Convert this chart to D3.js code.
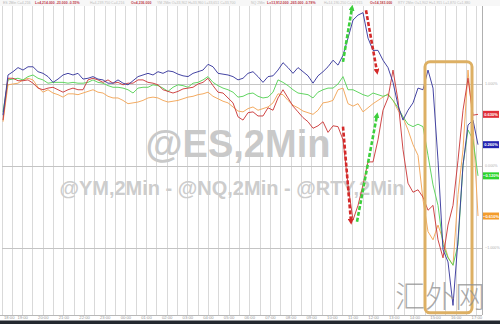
<!DOCTYPE html>
<html><head><meta charset="utf-8">
<script src="https://cdn.jsdelivr.net/npm/d3@7"></script>
<style>html,body{margin:0;padding:0;background:#fff;}svg{display:block;}</style>
</head><body>
<svg id="c" width="500" height="324"></svg>
<script>
// ---------- data ----------
const timeLabels = ["18:00","19:00","20:00","21:00","22:00","23:00","00:00","01:00","02:00","03:00","04:00","05:00",
  "06:00","07:00","08:00","09:00","10:00","11:00","12:00","13:00","14:00","15:00","16:00","17:00"];
const yTicks = [1, 0, -1];
const seriesNames = ["YM","ES","RTY","NQ"];
const nqValues = [0.62,1.11,1.15,1.20,1.17,1.21,1.21,1.15,1.13,1.09,
  1.02,1.06,1.11,1.13,1.11,1.13,1.06,1.07,1.09,1.06,
  1.05,1.01,1.01,1.05,1.01,0.99,1.04,1.09,1.11,1.13,
  1.11,1.15,1.13,1.16,1.15,1.12,1.10,1.09,1.13,1.15,
  1.17,1.24,1.21,1.13,1.12,1.11,1.09,1.05,1.07,1.13,
  1.15,1.09,1.02,1.09,1.10,1.17,1.26,1.20,1.13,1.20,
  1.15,1.10,1.01,1.10,1.15,1.21,1.29,1.23,1.35,1.56,
  1.78,1.84,1.87,1.56,1.41,1.41,1.29,1.20,1.02,0.74,
  0.56,0.68,0.77,0.95,0.93,1.17,0.95,0.07,-1.02,-1.17,
  -1.70,-0.90,0.01,0.50,0.56,0.26];
const esValues = [0.66,1.05,1.06,1.07,1.05,1.09,1.11,1.07,1.05,1.01,
  1.02,1.02,1.02,1.01,1.02,1.01,1.01,1.02,1.05,1.02,
  1.01,0.98,0.96,0.96,0.95,0.93,0.89,0.95,0.96,0.96,
  0.99,0.98,0.95,0.91,0.96,0.99,0.98,0.96,1.01,1.02,
  1.05,1.09,1.02,0.98,0.95,0.93,0.90,0.84,0.85,0.88,
  0.89,0.85,0.83,0.84,0.90,1.05,1.02,0.98,0.93,0.89,
  0.88,0.87,0.83,0.90,0.93,0.95,0.95,1.00,1.09,0.93,
  0.93,0.90,0.87,0.85,0.89,0.87,0.85,0.87,0.80,0.71,
  0.60,0.51,0.48,0.51,0.48,0.13,-0.23,-0.48,-0.96,-1.12,
  -1.21,-0.96,0.01,0.44,0.32,-0.12];
const rtyValues = [0.56,1.07,1.07,1.04,1.04,1.05,1.01,0.95,0.93,0.95,
  0.96,0.93,0.90,0.93,0.95,0.93,0.93,1.05,1.07,1.05,
  1.02,1.05,1.01,1.02,0.99,1.01,1.01,1.05,1.05,1.02,
  1.01,0.99,0.93,0.91,0.89,0.91,0.94,0.95,0.96,1.00,
  1.02,1.07,0.98,0.90,0.89,0.83,0.77,0.60,0.56,0.65,
  0.66,0.61,0.61,0.71,0.68,0.83,0.93,0.83,0.73,0.66,
  0.59,0.54,0.46,0.49,0.54,0.41,0.49,0.48,0.32,-0.23,
  -0.66,-0.48,-0.23,0.05,0.05,0.32,0.68,0.83,1.17,0.80,
  0.20,-0.21,-0.32,-0.29,-0.38,-0.54,-0.48,-0.90,-1.12,-0.72,
  -0.48,0.07,0.68,1.07,0.62,0.63];
const ymValues = [0.54,0.99,1.00,1.01,1.05,1.07,1.05,0.96,0.90,0.93,
  0.89,0.87,0.84,0.88,0.88,0.87,0.89,0.91,0.93,0.90,
  0.89,0.85,0.83,0.83,0.80,0.76,0.77,0.78,0.80,0.83,
  0.84,0.83,0.80,0.78,0.79,0.80,0.82,0.84,0.85,0.87,
  0.88,0.90,0.85,0.82,0.79,0.77,0.72,0.67,0.66,0.70,
  0.72,0.68,0.70,0.72,0.77,0.88,0.87,0.80,0.74,0.71,
  0.67,0.65,0.63,0.68,0.77,0.78,0.80,0.93,0.95,0.76,
  0.73,0.76,0.66,0.71,0.76,0.80,0.84,0.88,0.80,0.68,
  0.59,0.44,0.26,0.13,-0.41,-0.80,-0.90,-0.72,-0.90,-1.11,
  -1.21,-0.35,0.20,1.17,0.50,-0.61];
// annotation arrows: [fromIndex, fromValue, toIndex, toValue, colour]
const arrowSpecs = [
  [68.0, 1.27, 69.8, 1.93, "green"],
  [72.6, 1.90, 74.8, 1.15, "red"],
  [68.0, 0.48, 69.6, -0.68, "red"],
  [70.8, -0.68, 74.8, 0.62, "green"]
];
// highlight box: [fromIndex, toIndex, topValue, bottomValue]
const boxSpec = [84.4, 93.8, 1.27, -1.79];
const headerTexts = [
  ["ES 2Min  C=4,216", "#b8b8b8", 3], ["L=4,214.000 -23.000 -0.55%", "#c0394a", 35],
  ["H=4,239.750 C=4,216", "#bdbdbd", 90], ["O=4,236.000", "#c0394a", 131],
  ["YM 2Min O=33,902 H=33,960 L=33,651 C=33,700", "#bdbdbd", 157],
  ["NQ 2Min", "#bdbdbd", 251], ["L=13,912.000 -265.000 -0.78%", "#c0394a", 267],
  ["H=14,190.250 C=13,915", "#bdbdbd", 324], ["O=14,183.000", "#c0394a", 370],
  ["RTY 2Min O=1,902 H=1,915 L=1,870 C=1,880", "#bdbdbd", 398]
];

// ---------- drawing ----------
const svg = d3.select("#c");
const L = 2, R = 482, T = 6, B = 315;
const n = nqValues.length;
const x = d3.scaleLinear().domain([0, n - 1]).range([3, 478]);
const y = d3.scaleLinear().domain([-1, 1]).range([248, 84]);
const gx = d3.scaleLinear().domain([0, 23.25]).range([L, R]);

svg.append("rect").attr("width", 500).attr("height", 324).attr("fill", "#fff");

// header bar
svg.append("rect").attr("x", 0).attr("y", 0).attr("width", 500).attr("height", T).attr("fill", "#f7f7f7");
svg.selectAll("text.hdr").data(headerTexts).join("text").attr("class", "hdr")
  .attr("x", d => d[2]).attr("y", 4.2).attr("fill", d => d[1])
  .attr("font-family", "Liberation Sans, Arial, sans-serif").attr("font-size", 3.5)
  .attr("font-weight", d => d[1] === "#c0394a" ? "bold" : "normal").text(d => d[0]);

// vertical grid (every half hour)
svg.append("g").selectAll("line").data(d3.range(0, 23.5, 0.5)).join("line")
  .attr("x1", d => gx(d)).attr("x2", d => gx(d)).attr("y1", T).attr("y2", B)
  .attr("stroke", "#d9d9d9").attr("stroke-width", 1).attr("shape-rendering", "crispEdges");

// horizontal grid
svg.append("g").selectAll("line").data(yTicks).join("line")
  .attr("x1", L).attr("x2", R).attr("y1", d => y(d)).attr("y2", d => y(d))
  .attr("stroke", "#c4c4c4").attr("stroke-width", 1).attr("shape-rendering", "crispEdges");

// frame
svg.append("line").attr("x1", R).attr("x2", R).attr("y1", T).attr("y2", B).attr("stroke", "#b0b0b0").attr("shape-rendering", "crispEdges");
svg.append("line").attr("x1", 0).attr("x2", R).attr("y1", B).attr("y2", B).attr("stroke", "#b8b8b8").attr("shape-rendering", "crispEdges");

// watermark
svg.append("text").attr("x", 238).attr("y", 157).attr("text-anchor", "middle")
  .attr("font-family", "Liberation Sans, Arial, sans-serif").attr("font-weight", "bold").attr("font-size", 38)
  .attr("fill", "#c9c9c9").text("@ES,2Min");
svg.append("text").attr("x", 232).attr("y", 195).attr("text-anchor", "middle")
  .attr("font-family", "Liberation Sans, Arial, sans-serif").attr("font-weight", "bold").attr("font-size", 20)
  .attr("fill", "#cdcdcd").text("@YM,2Min - @NQ,2Min - @RTY,2Min");

// lines
const line = d3.line().x((d, i) => x(i)).y(d => y(d));
const series = [
  {name: seriesNames[0], values: ymValues, color: "#f2a65a", tag: "#f39c2c"},
  {name: seriesNames[1], values: esValues, color: "#5ad35a", tag: "#2ed42e"},
  {name: seriesNames[2], values: rtyValues, color: "#cc3d3d", tag: "#e0303a"},
  {name: seriesNames[3], values: nqValues, color: "#3b3b9e", tag: "#2424b0"}
];
svg.append("g").selectAll("path").data(series).join("path")
  .attr("d", d => line(d.values)).attr("fill", "none")
  .attr("stroke", d => d.color).attr("stroke-width", 0.95).attr("stroke-linejoin", "round");

// highlight box
svg.append("rect")
  .attr("x", x(boxSpec[0])).attr("y", y(boxSpec[2]))
  .attr("width", x(boxSpec[1]) - x(boxSpec[0])).attr("height", y(boxSpec[3]) - y(boxSpec[2]))
  .attr("rx", 5).attr("fill", "none").attr("stroke", "#ddb064").attr("stroke-width", 3);

// arrows
const arrowColors = {green: "#3ccf3c", red: "#d42a2a"};
const defs = svg.append("defs");
Object.entries(arrowColors).forEach(([k, c]) => {
  defs.append("marker").attr("id", "ah-" + k).attr("viewBox", "0 0 10 10").attr("refX", 5).attr("refY", 5)
    .attr("markerWidth", 6).attr("markerHeight", 6).attr("markerUnits", "userSpaceOnUse").attr("orient", "auto")
    .append("path").attr("d", "M0,0 L10,5 L0,10 z").attr("fill", c);
});
svg.append("g").selectAll("line").data(arrowSpecs).join("line")
  .attr("x1", d => x(d[0])).attr("y1", d => y(d[1])).attr("x2", d => x(d[2])).attr("y2", d => y(d[3]))
  .attr("stroke", d => arrowColors[d[4]]).attr("stroke-width", 2.6).attr("stroke-dasharray", "4,2")
  .attr("marker-end", d => "url(#ah-" + d[4] + ")");

// right axis ticks
const fmt = v => d3.format(".3f")(v) + "%";
svg.append("g").selectAll("text").data(yTicks).join("text")
  .attr("x", 485).attr("y", d => y(d) + 1.4).attr("fill", "#b0b0b0")
  .attr("font-family", "Liberation Sans, Arial, sans-serif").attr("font-size", 3.7).text(fmt);

// last-value tags
const tags = svg.append("g").selectAll("g").data(series).join("g")
  .attr("transform", d => `translate(483,${y(d.values[d.values.length - 1])})`);
tags.append("rect").attr("x", 0).attr("y", -3.5).attr("width", 16).attr("height", 7).attr("fill", d => d.tag);
tags.append("text").attr("x", 8).attr("y", 1.5).attr("text-anchor", "middle").attr("fill", "#fff")
  .attr("font-family", "Liberation Sans, Arial, sans-serif").attr("font-size", 4).attr("font-weight", "bold")
  .text(d => fmt(d.values[d.values.length - 1]));

// bottom time axis
svg.append("g").selectAll("text").data(timeLabels).join("text")
  .attr("x", (d, i) => i === 0 ? gx(i) + 2 : gx(i)).attr("y", 319)
  .attr("text-anchor", (d, i) => i === 0 ? "start" : "middle")
  .attr("fill", "#999").attr("font-family", "Liberation Sans, Arial, sans-serif").attr("font-size", 4.2).text(d => d);

// bottom strip
svg.append("rect").attr("x", 0).attr("y", 320.5).attr("width", 500).attr("height", 4).attr("fill", "#23272e");

// site watermark
svg.append("text").attr("x", 395).attr("y", 307)
  .attr("font-family", "Noto Sans CJK SC, sans-serif").attr("font-size", 30).attr("font-weight", "300")
  .attr("fill", "#8f8f8f").attr("fill-opacity", 0.75).text("汇外网");
</script>
</body></html>
